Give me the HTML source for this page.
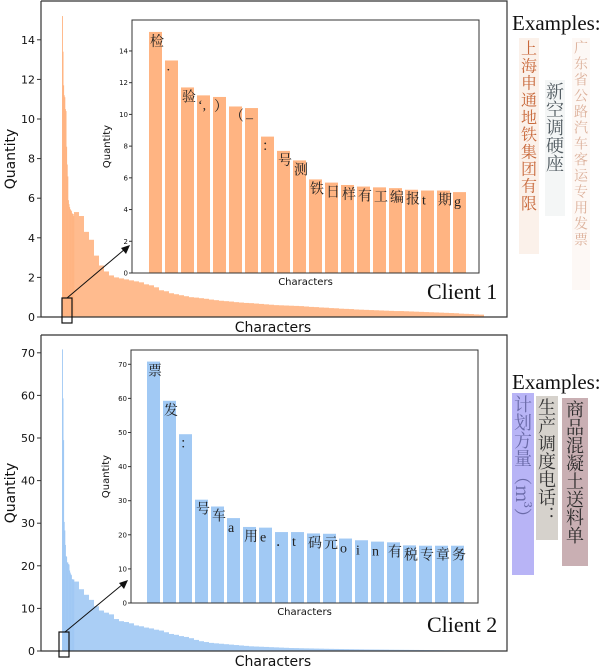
<!DOCTYPE html>
<html><head><meta charset="utf-8">
<style>
html,body{margin:0;padding:0;background:#fff;}
svg{display:block;}
</style></head>
<body>
<svg id="fig" width="610" height="668" viewBox="0 0 610 668" xmlns="http://www.w3.org/2000/svg" font-family="'DejaVu Sans', 'Liberation Sans', sans-serif"></svg>
<script>
// ---- data ----
const c1Chars = ["检","·","验","‘,","）","（","–","：","号","测","铁","日","样","有","工","编","报","t","期","g"];
const c1Top = [15.2,13.4,11.7,11.2,11.1,10.5,10.4,8.6,7.7,7.1,5.9,5.7,5.55,5.45,5.4,5.35,5.25,5.2,5.2,5.1];
const c1Tail = [5.3,5.1,4.3,3.9,3.1,2.6,2.3,2.1,2.0,1.95,1.9,1.85,1.8,1.75,1.65,1.6,1.5,1.35,1.3,1.2,1.15,1.1,1.05,1.0,0.98,0.95,0.92,0.88,0.85,0.82,0.8,0.78,0.75,0.73,0.71,0.7,0.68,0.66,0.64,0.62,0.6,0.59,0.58,0.57,0.56,0.55,0.53,0.51,0.5,0.48,0.47,0.45,0.44,0.42,0.41,0.4,0.38,0.37,0.36,0.35,0.34,0.33,0.32,0.31,0.3,0.3,0.29,0.28,0.27,0.26,0.25,0.24,0.23,0.22,0.21,0.2,0.19,0.17,0.16,0.15,0.13,0.12];
const c1MainTicks = [0,2,4,6,8,10,12,14];
const c1InsetTicks = [0,2,4,6,8,10,12,14];

const c2Chars = ["票","发","：","号","车","a","用","e","．","t","码","元","o","i","n","有","税","专","章","务"];
const c2Top = [70.8,59.3,49.5,30.3,28.3,24.9,22.3,22.1,20.8,20.8,20.4,20.3,18.9,18.4,18.0,17.8,16.9,16.8,16.8,16.8];
const c2Tail = [16.3,14.5,13.2,12.0,10.5,9.5,9.0,8.6,7.5,7.0,6.8,6.5,6.0,5.8,5.5,5.3,5.0,4.8,4.4,4.0,3.8,3.5,3.3,3.0,2.6,2.3,2.1,1.9,1.8,1.7,1.6,1.5,1.4,1.3,1.2,1.1,1.05,1.0,0.95,0.9,0.85,0.8,0.75,0.7,0.68,0.65,0.62,0.6,0.57,0.55,0.52,0.5,0.48,0.46,0.44,0.42,0.4,0.38,0.36,0.35,0.34,0.33,0.32,0.3,0.29,0.28,0.27,0.26,0.25,0.24,0.23,0.22,0.21,0.2,0.19,0.18,0.17,0.16,0.15,0.14,0.13,0.12];
const c2MainTicks = [0,10,20,30,40,50,60,70];
const c2InsetTicks = [0,10,20,30,40,50,60,70];

const NS = "http://www.w3.org/2000/svg";
const svg = document.getElementById('fig');
function el(tag, attrs, parent, text){
  const e = document.createElementNS(NS, tag);
  for (const k in attrs) e.setAttribute(k, attrs[k]);
  if (text !== undefined) e.textContent = text;
  (parent||svg).appendChild(e);
  return e;
}

function panel(cfg){
  const g = el('g', {});
  
  
  const M = cfg.main;
  const yMain = v => M.y0 - v * M.k;
  const head = cfg.top, tail = cfg.tail;
  head.forEach((v,i)=>{
    const r = el('rect',{x:62+i*0.6,y:yMain(v),width:0.9,height:M.y0-yMain(v),fill:cfg.color},g);
    
    
  });
  tail.forEach((v,i)=>{
    const r = el('rect',{x:74+i*5,y:yMain(v),width:5,height:M.y0-yMain(v),fill:cfg.color,'fill-opacity':0.9},g);
    
    
  });
  const ax = el('path',{d:`M41 ${M.top} V${M.y0} H507 V${M.top} H41`,fill:'none',stroke:'#333',"stroke-width":1.2},g);
  
  
  cfg.mainTicks.forEach(t=>{
    const y = yMain(t);
    el('line',{x1:37,x2:41,y1:y,y2:y,stroke:'#333'},g);
    const tx = el('text',{x:35,y:y+4,'font-size':11,'text-anchor':'end',fill:'#111'},g,String(t));
    
    
  });
  const yl = el('text',{x:0,y:0,transform:`translate(15 ${ (M.top+M.y0)/2 }) rotate(-90)`,'font-size':14,'text-anchor':'middle',fill:'#111'},g,'Quantity');
  
  
  const xl = el('text',{x:273,y:M.y0+15,'font-size':14,'text-anchor':'middle',fill:'#111'},g,'Characters');
  
  

  const I = cfg.inset;
  const yIn = v => I.y0 - v * I.k;
  el('rect',{x:I.left,y:I.top,width:I.right-I.left,height:I.y0-I.top,fill:'#fff'},g);
  head.forEach((v,i)=>{
    const x = I.bx + i*16;
    const r = el('rect',{x:x,y:yIn(v),width:13,height:I.y0-yIn(v),fill:cfg.color},g);
    
    
    const t = el('text',{x:x+1,y:yIn(v)+14,'font-size':14,fill:'#222','font-family':"'Liberation Serif','Noto Serif CJK SC',serif"},g,cfg.chars[i]);
    
    
  });
  const iax = el('rect',{x:I.left,y:I.top,width:I.right-I.left,height:I.y0-I.top,fill:'none',stroke:'#333','stroke-width':1},g);
  
  
  cfg.insetTicks.forEach(t=>{
    const y = yIn(t);
    el('line',{x1:I.left-3,x2:I.left,y1:y,y2:y,stroke:'#333'},g);
    const tx = el('text',{x:I.left-4,y:y+2.5,'font-size':7,'text-anchor':'end',fill:'#111'},g,String(t));
    
    
  });
  const iyl = el('text',{x:0,y:0,transform:`translate(${I.left-22} ${(I.top+I.y0)/2}) rotate(-90)`,'font-size':10,'text-anchor':'middle',fill:'#111'},g,'Quantity');
  
  
  const ixl = el('text',{x:(I.left+I.right)/2,y:I.y0+12,'font-size':10,'text-anchor':'middle',fill:'#111'},g,'Characters');
  
  

  const zb = el('rect',{x:cfg.box[0],y:cfg.box[1],width:10,height:25,fill:'none',stroke:'#111','stroke-width':1.2},g);
  
  
  const a = cfg.arrow;
  const ar = el('line',{x1:a[0],y1:a[1],x2:a[2]-5,y2:a[3]+4,stroke:'#111','stroke-width':1},g);
  
  
  el('polygon',{points:`${a[2]},${a[3]} ${a[2]-9},${a[3]+3} ${a[2]-4},${a[3]+9}`,fill:'#111'},g);

  const cl = el('text',{x:427,y:cfg.clientY,'font-size':22,fill:'#111','font-family':"'Liberation Serif',serif"},g,cfg.client);
  
  
}

panel({name:'client-1-panel',color:'#ffb482',top:c1Top,tail:c1Tail,chars:c1Chars,mainTicks:c1MainTicks,insetTicks:c1InsetTicks,
  main:{top:1,y0:317,k:19.8},
  inset:{left:132,right:479,top:20,y0:273,k:15.86,bx:149},
  box:[62,298],arrow:[67,298,130,245],client:'Client 1',clientY:299});
panel({name:'client-2-panel',color:'#a1c9f4',top:c2Top,tail:c2Tail,chars:c2Chars,mainTicks:c2MainTicks,insetTicks:c2InsetTicks,
  main:{top:335,y0:651,k:4.26},
  inset:{left:131,right:478,top:350,y0:603,k:3.41,bx:147},
  box:[59,632],arrow:[65,632,128,580],client:'Client 2',clientY:632});

function examples(y, strips, name){
  const g = el('g',{});
  
  
  const t = el('text',{x:512,y:y,'font-size':21,fill:'#111','font-family':"'Liberation Serif',serif"},g,'Examples:');
  
  
  strips.forEach(s=>{
    const r = el('rect',{x:s.x,y:s.y,width:s.w,height:s.h,fill:s.bg},g);
    
    
    const tx = el('text',{x:s.x+s.w/2,y:s.y+2,'font-size':s.fs,fill:s.fg,'writing-mode':'tb','glyph-orientation-vertical':0,'letter-spacing':s.ls,'font-family':"'Noto Serif CJK SC',serif"},g,s.text);
    
    
  });
}
examples(30,[
  {x:519,y:38,w:20,h:216,bg:'#fbf1ea',fg:'#c8683a',fs:16,ls:1.2,text:'上海申通地铁集团有限'},
  {x:545,y:80,w:20,h:136,bg:'#f4f6f6',fg:'#505a60',fs:18,ls:0,text:'新空调硬座'},
  {x:572,y:38,w:18,h:252,bg:'#fdf8f5',fg:'#dcb09a',fs:14,ls:2,text:'广东省公路汽车客运专用发票'},
],'examples-client-1');
examples(389,[
  {x:512,y:393,w:22,h:182,bg:'#b8b4f6',fg:'#6a6aa8',fs:18,ls:0,text:'计划方量（m³）'},
  {x:536,y:396,w:22,h:144,bg:'#d6d2cc',fg:'#333',fs:18,ls:0,text:'生产调度电话：'},
  {x:562,y:398,w:26,h:168,bg:'#c9afb3',fg:'#2a2a2a',fs:18,ls:0,text:'商品混凝土送料单'},
],'examples-client-2');
</script>
</body></html>
